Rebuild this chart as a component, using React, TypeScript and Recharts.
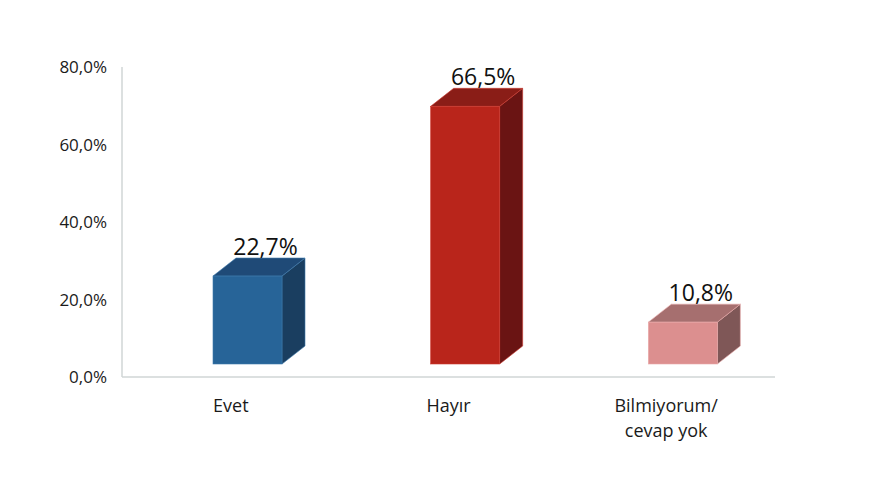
import { BarChart, Bar, XAxis, YAxis, LabelList, Cell } from "recharts";

const categories = ["Evet", "Hayır", "Bilmiyorum/ cevap yok"];
const values = [22.7, 66.5, 10.8];
const yTicks = [0, 20, 40, 60, 80];

const frontColors = ["#276498", "#b9251b", "#dc8f8f"];
const topColors = ["#1f4a77", "#8a1d17", "#a66f6f"];
const sideColors = ["#1a3e60", "#6a1413", "#7f5757"];
const edgeColors = ["#3d78ab", "#cc3a30", "#eaa9a9"];

const data = categories.map((name, i) => ({ name, value: values[i] }));

// 3d look: face shifted right of band centre, lifted off the floor
const SHIFT = 17;
const LIFT = 13;
const DX = 23;
const DY = 18;

const fmt = (v: number) => v.toFixed(1).replace(".", ",") + "%";

const FONT = "'Open Sans', sans-serif";

function Box3D(props: any) {
  const { x, y, width, height, index } = props;
  const fx = x + SHIFT;
  const fy = y - LIFT;
  const fb = y + height - LIFT;
  const fr = fx + width;
  return (
    <g>
      <polygon
        points={`${fr},${fy} ${fr + DX},${fy - DY} ${fr + DX},${fb - DY} ${fr},${fb}`}
        fill={sideColors[index]}
        stroke={edgeColors[index]}
        strokeWidth={0.6}
      />
      <polygon
        points={`${fx},${fy} ${fx + DX},${fy - DY} ${fr + DX},${fy - DY} ${fr},${fy}`}
        fill={topColors[index]}
        stroke={edgeColors[index]}
        strokeWidth={0.6}
      />
      <rect
        x={fx}
        y={fy}
        width={width}
        height={fb - fy}
        fill={frontColors[index]}
        stroke={edgeColors[index]}
        strokeWidth={0.6}
      />
    </g>
  );
}

function ValueLabel(props: any) {
  const { x, y, width, value } = props;
  return (
    <text
      x={x + width / 2 + SHIFT + 18}
      y={y - LIFT - DY - 3}
      textAnchor="middle"
      fontSize={23}
      fontFamily={FONT}
      fill="#111"
    >
      {fmt(value)}
    </text>
  );
}

function CategoryTick(props: any) {
  const { x, y, payload } = props;
  const lines = String(payload.value).split("/ ");
  return (
    <g>
      {lines.map((line: string, i: number) => (
        <text
          key={i}
          x={x}
          y={y + 27 + i * 25}
          textAnchor="middle"
          fontSize={18}
          fontFamily={FONT}
          fill="#1a1a1a"
        >
          {i < lines.length - 1 ? line + "/" : line}
        </text>
      ))}
    </g>
  );
}

function ValueTick(props: any) {
  const { x, y, payload } = props;
  return (
    <text
      x={x}
      y={y + 6}
      textAnchor="end"
      fontSize={17}
      fontFamily={FONT}
      fill="#1a1a1a"
    >
      {fmt(payload.value)}
    </text>
  );
}

export default function App() {
  return (
    <div style={{ margin: -8, width: 880, height: 480, background: "#fff" }}>
      <BarChart
        width={880}
        height={480}
        data={data}
        margin={{ top: 67, right: 105, bottom: 0, left: 0 }}
      >
        <XAxis
          dataKey="name"
          tick={<CategoryTick />}
          tickLine={false}
          axisLine={{ stroke: "#d0d6d6", strokeWidth: 1.5 }}
          interval={0}
          height={103}
        />
        <YAxis
          domain={[0, 80]}
          ticks={yTicks}
          width={122}
          tickLine={false}
          axisLine={{ stroke: "#d0d6d6", strokeWidth: 1.5 }}
          tickMargin={9}
          tick={<ValueTick />}
        />
        <Bar dataKey="value" barSize={69} shape={<Box3D />} isAnimationActive={false}>
          {data.map((d, i) => (
            <Cell key={d.name} fill={frontColors[i]} />
          ))}
          <LabelList dataKey="value" content={<ValueLabel />} />
        </Bar>
      </BarChart>
    </div>
  );
}
